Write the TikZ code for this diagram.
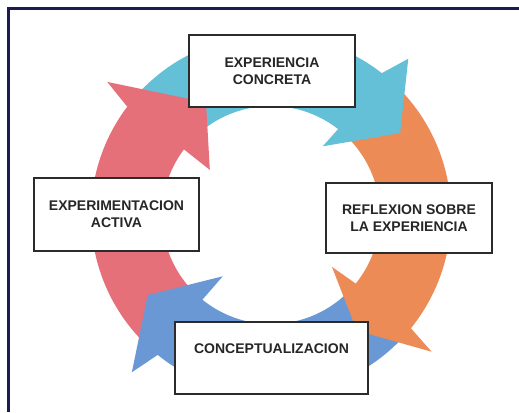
\documentclass[tikz,border=0pt]{standalone}
\usepackage{fontspec}
\setmainfont{Liberation Sans}
\definecolor{ccyan}{HTML}{64C0D6}
\definecolor{corange}{HTML}{EC8B55}
\definecolor{cblue}{HTML}{6A98D5}
\definecolor{cred}{HTML}{E6707A}
\definecolor{cnavy}{HTML}{1C1C55}
\definecolor{cbox}{HTML}{2B2B2B}
\begin{document}
\begin{tikzpicture}[x=1pt,y=1pt,
  box/.style={draw=cbox, line width=1.8pt, fill=white, inner sep=0pt},
  lbl/.style={font=\bfseries\fontsize{14}{17}\selectfont, text=black!85, align=center, inner sep=0pt}]
\useasboundingbox (0,0) rectangle (519,412);
\fill[white] (0,0) rectangle (519,412);
\draw[cnavy, line width=3pt] (8.5,0) -- (8.5,403.5) -- (519,403.5);
\begin{scope}[shift={(271,197)}]
  % ring bodies
  \fill[ccyan]   (142:180) arc[start angle=142, end angle=51, radius=180] -- (51:109) arc[start angle=51, end angle=142, radius=109] -- cycle;
  \fill[corange] (51:180) arc[start angle=51, end angle=-40, radius=180] -- (-40:109) arc[start angle=-40, end angle=51, radius=109] -- cycle;
  \fill[cblue]   (-40:180) arc[start angle=-40, end angle=-130, radius=180] -- (-130:109) arc[start angle=-130, end angle=-40, radius=109] -- cycle;
  \fill[cred]    (230:180) arc[start angle=230, end angle=142, radius=180] -- (142:109) arc[start angle=142, end angle=230, radius=109] -- cycle;
  % arrow heads
  \fill[ccyan]   (52:180) -- (48.7:208) -- (32.4:153) -- (53:86) -- (52:109) -- cycle;
  \fill[corange] (-39:180) -- (-40.4:211) -- (-53.4:144) -- (-40.4:80) -- (-39:109) -- cycle;
  \fill[cblue]   (231:180) -- (228.5:210) -- (213:147) -- (231.8:78) -- (231:109) -- cycle;
  \fill[cred]    (143:180) -- (140.9:211) -- (120:130) -- (143.6:76) -- (143:109) -- cycle;
\end{scope}
\node[box, minimum width=166pt, minimum height=72pt] (ec) at (272,341) {};
\node[lbl] (ect) at (272,341) {EXPERIENCIA\\CONCRETA};
\node[box, minimum width=166pt, minimum height=70pt] (re) at (409,194) {};
\node[lbl] (ret) at (409,193.5) {REFLEXION SOBRE\\LA EXPERIENCIA};
\node[box, minimum width=193pt, minimum height=72pt] (co) at (271.5,54) {};
\node[lbl] (cot) at (271.5,63) {CONCEPTUALIZACION};
\node[box, minimum width=165pt, minimum height=73pt] (ea) at (116.5,197.5) {};
\node[lbl] (eat) at (116.5,197.5) {EXPERIMENTACION\\ACTIVA};
\end{tikzpicture}
\end{document}
